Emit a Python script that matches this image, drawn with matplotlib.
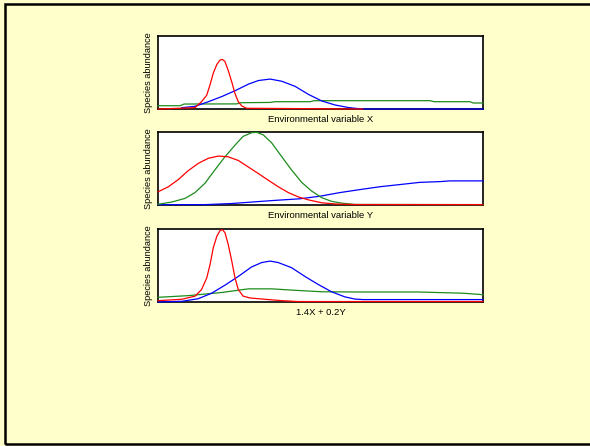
import numpy as np
import matplotlib
matplotlib.use("Agg")
import matplotlib.pyplot as plt
from matplotlib.patches import Rectangle

plt.rcParams['font.family'] = ['Liberation Sans', 'DejaVu Sans']

# abundance curves along each gradient (x scaled 0..1, abundance scaled 0..1)
x_red_1 = [0.0, 0.114, 0.134, 0.150, 0.160, 0.170, 0.181, 0.191, 0.198, 0.206, 0.216,
           0.227, 0.237, 0.247, 0.258, 0.273, 0.63]
y_red_1 = [0.0, 0.018, 0.10, 0.19, 0.33, 0.49, 0.61, 0.67, 0.68, 0.65, 0.53,
           0.37, 0.21, 0.10, 0.04, 0.01, 0.0]
x_blue_1 = [0.073, 0.114, 0.155, 0.196, 0.237, 0.278, 0.309, 0.345, 0.381, 0.422, 0.463,
            0.504, 0.545, 0.586, 0.606, 0.63, 1.0]
y_blue_1 = [0.018, 0.037, 0.10, 0.17, 0.25, 0.34, 0.39, 0.41, 0.38, 0.31, 0.20,
            0.11, 0.055, 0.02, 0.01, 0.0, 0.0]
x_green_1 = [0.0, 0.068, 0.08, 0.242, 0.255, 0.345, 0.36, 0.468, 0.48, 0.837, 0.85, 0.96, 0.97, 1.0]
y_green_1 = [0.045, 0.045, 0.068, 0.07, 0.086, 0.09, 0.10, 0.10, 0.114, 0.114, 0.10, 0.10, 0.082, 0.082]

x_red_2 = [0.0, 0.032, 0.063, 0.093, 0.124, 0.155, 0.186, 0.216, 0.247, 0.278, 0.309,
           0.339, 0.370, 0.401, 0.432, 0.463, 0.504, 0.545, 0.606, 1.0]
y_red_2 = [0.18, 0.25, 0.35, 0.47, 0.57, 0.64, 0.67, 0.66, 0.61, 0.52, 0.43,
           0.34, 0.25, 0.17, 0.11, 0.07, 0.03, 0.014, 0.005, 0.005]
x_green_2 = [0.0, 0.042, 0.083, 0.114, 0.145, 0.175, 0.206, 0.237, 0.262, 0.288, 0.304,
             0.324, 0.350, 0.381, 0.411, 0.442, 0.473, 0.504, 0.534, 0.565, 0.606, 1.0]
y_green_2 = [0.01, 0.04, 0.09, 0.17, 0.30, 0.48, 0.66, 0.82, 0.94, 0.99, 0.995,
             0.96, 0.85, 0.66, 0.48, 0.31, 0.19, 0.10, 0.05, 0.025, 0.008, 0.005]
x_blue_2 = [0.0, 0.145, 0.227, 0.35, 0.437, 0.498, 0.56, 0.62, 0.683, 0.745, 0.806, 0.868, 0.898, 1.0]
y_blue_2 = [0.005, 0.005, 0.02, 0.06, 0.085, 0.12, 0.17, 0.21, 0.25, 0.28, 0.31, 0.32, 0.33, 0.33]

x_red_3 = [0.0, 0.073, 0.114, 0.134, 0.150, 0.160, 0.170, 0.181, 0.191, 0.198, 0.206,
           0.216, 0.227, 0.237, 0.247, 0.262, 0.283, 0.329, 0.381, 0.432, 1.0]
y_red_3 = [0.018, 0.037, 0.08, 0.17, 0.33, 0.51, 0.74, 0.90, 0.98, 0.99, 0.95,
           0.79, 0.56, 0.33, 0.17, 0.08, 0.055, 0.037, 0.018, 0.006, 0.006]
x_blue_3 = [0.0, 0.073, 0.124, 0.165, 0.206, 0.247, 0.288, 0.319, 0.345, 0.370, 0.411,
            0.452, 0.493, 0.534, 0.575, 0.606, 0.63, 1.0]
y_blue_3 = [0.0, 0.009, 0.045, 0.12, 0.23, 0.35, 0.48, 0.54, 0.56, 0.54, 0.47,
            0.35, 0.24, 0.14, 0.07, 0.04, 0.033, 0.033]
x_green_3 = [0.0, 0.093, 0.196, 0.278, 0.35, 0.422, 0.504, 0.606, 0.80, 0.94, 1.0]
y_green_3 = [0.064, 0.087, 0.13, 0.18, 0.18, 0.16, 0.14, 0.137, 0.137, 0.12, 0.10]

xlabels = ["Environmental variable X", "Environmental variable Y", "1.4X + 0.2Y"]

RED, BLUE, GREEN = '#ff0000', '#0000ff', '#1c8c1c'

fig = plt.figure(figsize=(5.9, 4.46), dpi=100, facecolor='#ffffcc')
fig.patches.append(Rectangle((0.0085, 0.0045), 1.05, 0.9865, transform=fig.transFigure,
                             fill=False, edgecolor='black', linewidth=1.8))

boxes = [(0.2678, 0.7556, 0.5508, 0.1637),
         (0.2678, 0.5404, 0.5508, 0.1637),
         (0.2678, 0.3229, 0.5508, 0.1637)]
curves = [
    [(x_green_1, y_green_1, GREEN), (x_blue_1, y_blue_1, BLUE), (x_red_1, y_red_1, RED)],
    [(x_blue_2, y_blue_2, BLUE), (x_green_2, y_green_2, GREEN), (x_red_2, y_red_2, RED)],
    [(x_green_3, y_green_3, GREEN), (x_blue_3, y_blue_3, BLUE), (x_red_3, y_red_3, RED)],
]

for box, lines, lab in zip(boxes, curves, xlabels):
    ax = fig.add_axes(box)
    ax.set_facecolor('white')
    for xs, ys, c in lines:
        ax.plot(xs, ys, color=c, lw=0.9, clip_on=False, zorder=3)
    ax.set_xlim(0, 1)
    ax.set_ylim(0, 1.0)
    ax.set_xticks([])
    ax.set_yticks([])
    for s in ax.spines.values():
        s.set_linewidth(1.2)
        s.set_zorder(2)
    ax.set_xlabel(lab, fontsize=6.8, labelpad=4.5)
    ax.set_ylabel("Species abundance", fontsize=6.6, labelpad=3.5)

fig.savefig("out.png", dpi=100, facecolor=fig.get_facecolor())
